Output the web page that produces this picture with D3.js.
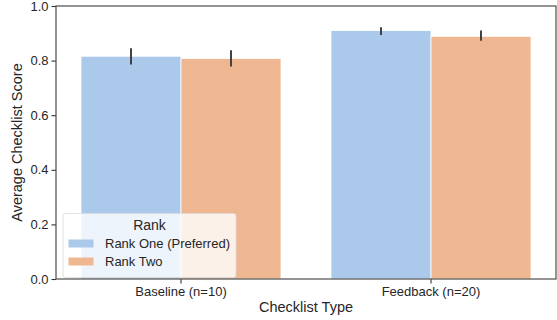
<!DOCTYPE html>
<html>
<head>
<meta charset="utf-8">
<script src="https://cdn.jsdelivr.net/npm/d3@7"></script>
<style>
  body { margin: 0; background: #fff; }
  svg { display: block; font-family: "Liberation Sans", Arial, sans-serif; }
</style>
</head>
<body>
<svg id="chart" width="557" height="320"></svg>
<script>
// Checklist score by checklist type, split by rank
const categories = ["Baseline (n=10)", "Feedback (n=20)"];
const series = ["Rank One (Preferred)", "Rank Two"];
const means = [
  [0.816, 0.808],   // Baseline: rank one, rank two
  [0.910, 0.889]    // Feedback: rank one, rank two
];
const ciLow = [
  [0.786, 0.778],
  [0.894, 0.873]
];
const ciHigh = [
  [0.845, 0.838],
  [0.922, 0.910]
];
const yTicks = [0.0, 0.2, 0.4, 0.6, 0.8, 1.0];
const colors = ["#abc9eb", "#efb791"];

const svg = d3.select("#chart");
const margin = { left: 56, right: 1, top: 6, bottom: 41 };
const W = 557, H = 320;
const x0 = margin.left, x1 = W - margin.right;
const y0 = H - margin.bottom, y1 = margin.top;

// each category gets an equal band; the bars fill 80% of it
const xOuter = d3.scaleBand().domain(categories).range([x0, x1]);
const xInner = d3.scaleBand().domain(series).range([0, xOuter.bandwidth() * 0.8]);
const y = d3.scaleLinear().domain([0, 1]).range([y0, y1]);

const rows = [];
categories.forEach((c, i) => series.forEach((s, j) => rows.push({
  c, s, j, v: means[i][j], lo: ciLow[i][j], hi: ciHigh[i][j]
})));

const barX = d => xOuter(d.c) + xOuter.bandwidth() * 0.1 + xInner(d.s);

svg.append("g").selectAll("rect").data(rows).join("rect")
  .attr("x", barX)
  .attr("width", xInner.bandwidth())
  .attr("y", d => y(d.v))
  .attr("height", d => y(0) - y(d.v))
  .attr("fill", d => colors[d.j])
  .attr("stroke", "#fff")
  .attr("stroke-width", 0.8);

svg.append("g").selectAll("line").data(rows).join("line")
  .attr("x1", d => barX(d) + xInner.bandwidth() / 2)
  .attr("x2", d => barX(d) + xInner.bandwidth() / 2)
  .attr("y1", d => y(d.lo))
  .attr("y2", d => y(d.hi))
  .attr("stroke", "#424242")
  .attr("stroke-width", 2);

// Axes
const yAxis = svg.append("g").attr("transform", `translate(${x0},0)`)
  .call(d3.axisLeft(y).tickValues(yTicks).tickFormat(d3.format(".1f")).tickSize(4.5).tickPadding(3));
const xAxis = svg.append("g").attr("transform", `translate(0,${y0})`)
  .call(d3.axisBottom(xOuter).tickSize(4.5).tickPadding(3));
[yAxis, xAxis].forEach(a => {
  a.attr("font-size", null).attr("font-family", null);
  a.select(".domain").remove();
  a.selectAll(".tick line").attr("stroke", "#333").attr("stroke-width", 1.1);
  a.selectAll(".tick text").attr("fill", "#262626").style("font-size", "13px");
});

// Frame
svg.append("rect")
  .attr("x", x0).attr("y", y1)
  .attr("width", x1 - x0).attr("height", y0 - y1)
  .attr("fill", "none").attr("stroke", "#4d4d4d").attr("stroke-width", 1.2);

// Axis titles
svg.append("text")
  .attr("x", (x0 + x1) / 2).attr("y", 312)
  .attr("text-anchor", "middle").attr("fill", "#262626")
  .style("font-size", "14.5px").text("Checklist Type");
svg.append("text")
  .attr("transform", `translate(22,${(y0 + y1) / 2}) rotate(-90)`)
  .attr("text-anchor", "middle").attr("fill", "#262626")
  .style("font-size", "14.5px").text("Average Checklist Score");

// Legend
const lg = svg.append("g").attr("transform", "translate(63,213.5)");
lg.append("rect").attr("width", 173).attr("height", 64).attr("rx", 2.5)
  .attr("fill", "#fff").attr("fill-opacity", 0.8)
  .attr("stroke", "#d9d9d9").attr("stroke-width", 0.8);
lg.append("text").attr("x", 86.5).attr("y", 16.5)
  .attr("text-anchor", "middle").attr("fill", "#262626")
  .style("font-size", "14px").text("Rank");
series.forEach((s, j) => {
  const yy = 26 + j * 18;
  lg.append("rect").attr("x", 5.5).attr("y", yy).attr("width", 25).attr("height", 8)
    .attr("fill", colors[j]);
  lg.append("text").attr("x", 42).attr("y", yy + 8.5)
    .attr("fill", "#262626").style("font-size", "13px").text(s);
});
</script>
</body>
</html>
